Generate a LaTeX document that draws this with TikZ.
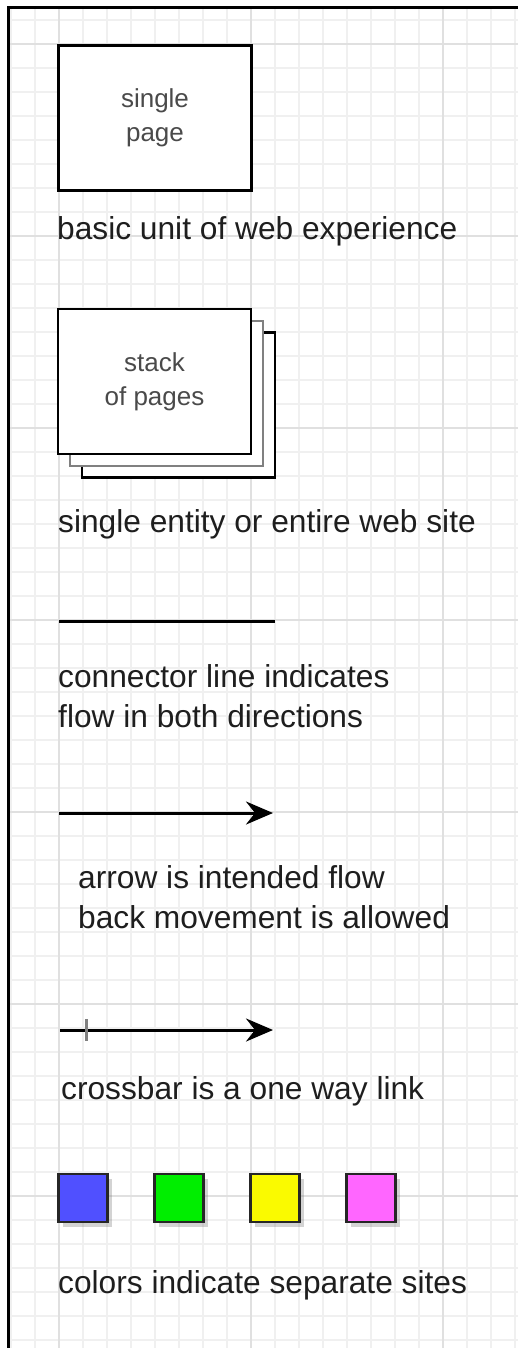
\documentclass[tikz,border=0pt]{standalone}
\usepackage{fontspec}
\setmainfont{Liberation Sans}
\usetikzlibrary{arrows.meta,shadows}

\definecolor{minorline}{HTML}{F0F0F0}
\definecolor{majorline}{HTML}{E0E0E0}
\definecolor{captext}{HTML}{1E1E1E}
\definecolor{boxtext}{HTML}{4A4A4A}
\definecolor{siteblue}{HTML}{5050FF}
\definecolor{sitegreen}{HTML}{00EE00}
\definecolor{siteyellow}{HTML}{FAFA00}
\definecolor{sitepink}{HTML}{FF66FF}

\tikzset{
  minorgrid/.style={draw=minorline, line width=2pt},
  majorgrid/.style={draw=majorline, line width=2.5pt},
  pagebox/.style={draw=black, fill=white, line width=2.5pt, minimum width=193pt,
    minimum height=145pt, inner sep=0pt, align=center, text=boxtext,
    font=\fontsize{26}{34}\selectfont},
  caption/.style={anchor=base west, inner sep=0pt, align=left, text=captext,
    font=\fontsize{31.7}{39.5}\selectfont},
  conn/.style={draw=black, line width=3pt},
  crossbar/.style={draw=gray, line width=3pt},
  site/.style={draw=black!85, line width=2.5pt, minimum width=49pt, minimum height=48pt,
    inner sep=0pt, drop shadow={shadow xshift=4pt, shadow yshift=-5pt, opacity=0.35}},
}

\begin{document}
\begin{tikzpicture}[x=1pt, y=-1pt]
        \useasboundingbox (0,0) rectangle (518,1348);

        % background grid
        \foreach \x in {11,35,...,515}
            \draw[minorgrid] (\x,8) -- (\x,1348);
        \foreach \y in {20,44,...,1340}
            \draw[minorgrid] (8,\y) -- (518,\y);
        \foreach \x in {59,251,443}
            \draw[majorgrid] (\x,8) -- (\x,1348);
        \foreach \y in {44,236,...,1196}
            \draw[majorgrid] (8,\y) -- (518,\y);
        \draw[line width=3pt] (518,8) -- (8,8) -- (8,1348);

        % single page
        \node[pagebox] (single) at (155,118) {single\\page};
        \node[caption] (singlecap) at (57,240) {basic unit of web experience};

        % stack of pages
        \node[pagebox] (stack3) at (178.5,405) {};
        \node[pagebox, draw=gray] (stack2) at (166.5,393.5) {};
        \node[pagebox] (stack) at (154.5,381.5) {stack\\of pages};
        \node[caption] (stackcap) at (58,532) {single entity or entire web site};

        % connector line
        \coordinate (linea) at (59,621);
        \coordinate (lineb) at (275,621);
        \draw[conn] (linea) -- (lineb);
        \node[caption] (linecap) at (58,727) {connector line indicates\\flow in both directions};

        % arrow
        \coordinate (arrowa) at (59,813);
        \coordinate (arrowb) at (273,813);
        \draw[conn, -{Stealth[length=27pt, width=23pt, inset=9pt]}] (arrowa) -- (arrowb);
        \node[caption] (arrowcap) at (78,928) {arrow is intended flow\\back movement is allowed};

        % one way link
        \coordinate (cbara) at (60,1030);
        \coordinate (cbarb) at (273,1030);
        \draw[conn, -{Stealth[length=27pt, width=23pt, inset=9pt]}] (cbara) -- (cbarb);
        \draw[crossbar] ([xshift=26pt, yshift=11pt]cbara) -- ([xshift=26pt, yshift=-11pt]cbara);
        \node[caption] (cbarcap) at (61,1099) {crossbar is a one way link};

        % sites
        \foreach \c [count=\i from 0] in {siteblue,sitegreen,siteyellow,sitepink}
            \node[site, fill=\c] (site\i) at (83+96*\i,1198) {};
        \node[caption] (sitecap) at (58,1293) {colors indicate separate sites};
\end{tikzpicture}
\end{document}
